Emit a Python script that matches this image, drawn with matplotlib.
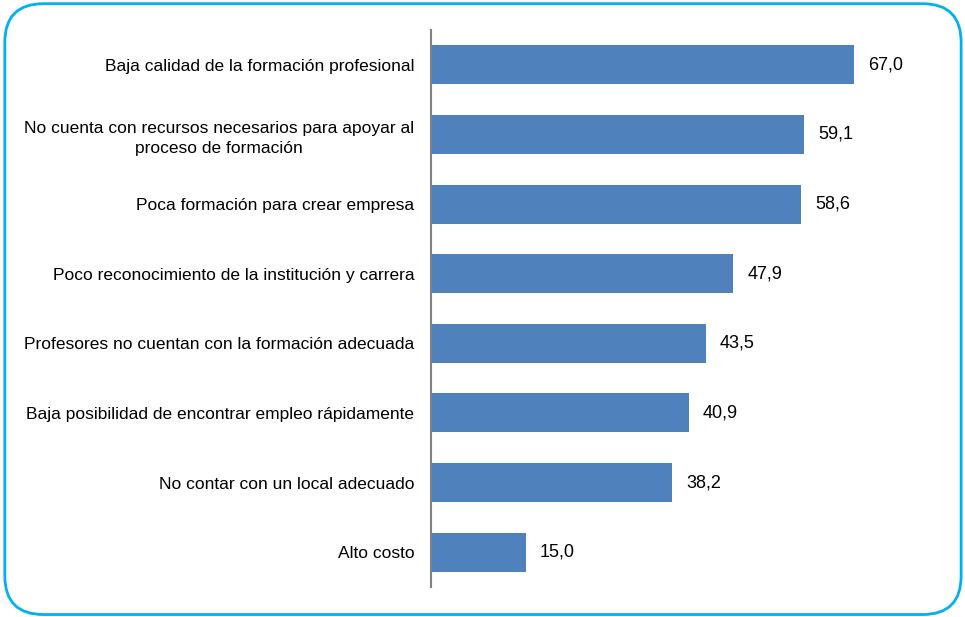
import matplotlib.pyplot as plt
from matplotlib.patches import FancyBboxPatch

# Data
categorias = ['Baja calidad de la formación profesional',
              'No cuenta con recursos necesarios para apoyar al\nproceso de formación',
              'Poca formación para crear empresa',
              'Poco reconocimiento de la institución y carrera',
              'Profesores no cuentan con la formación adecuada',
              'Baja posibilidad de encontrar empleo rápidamente',
              'No contar con un local adecuado',
              'Alto costo']
valores = [67.0, 59.1, 58.6, 47.9, 43.5, 40.9, 38.2, 15.0]

plt.rcParams['font.family'] = ['Liberation Sans', 'DejaVu Sans']

fig = plt.figure(figsize=(9.65, 6.17), dpi=100)
ax = fig.add_axes([0.4466, 0.0486, 0.5234, 0.9028])

ypos = list(range(len(valores)))
ax.barh(ypos, valores, height=0.56, color='#4F81BD')
for y, v in zip(ypos, valores):
    ax.text(v + 2.2, y, f'{v:.1f}'.replace('.', ','), va='center', ha='left', fontsize=13)

ax.set_yticks(ypos)
ax.set_yticklabels(categorias, fontsize=12.5, linespacing=1.45, multialignment='center')
ax.tick_params(axis='y', length=0, pad=12)
ax.set_ylim(len(valores) - 0.5, -0.5)
ax.set_xlim(0, 80)
ax.set_xticks([])
for s in ['top', 'right', 'bottom']:
    ax.spines[s].set_visible(False)
ax.spines['left'].set_color('#808080')
ax.spines['left'].set_linewidth(1.5)

# rounded frame
frame = FancyBboxPatch((0.005, 0.004), 0.991, 0.99, boxstyle='round,pad=0,rounding_size=0.04',
                       transform=fig.transFigure, fill=False, edgecolor='#00B0F0', linewidth=2,
                       mutation_aspect=965/617)
fig.patches.append(frame)

fig.savefig('out.png', dpi=100)
